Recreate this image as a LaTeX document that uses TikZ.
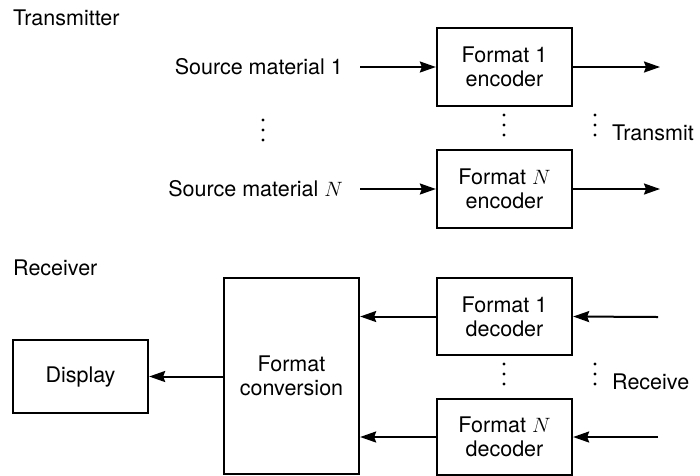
\documentclass[tikz,border=0pt]{standalone}
\usepackage{fontspec}
\setmainfont{TeX Gyre Heros}
\usetikzlibrary{arrows.meta}
\begin{document}
\begin{tikzpicture}[x=1pt,y=-1pt,
  font=\fontsize{21.5}{24}\selectfont,
  blk/.style={draw,line width=2.3pt,minimum width=135pt,align=center,inner sep=0pt},
  lbl/.style={inner sep=0pt},
  sig/.style={line width=2pt,-{Stealth[length=16pt,width=11pt,inset=2pt]}},
  dotcol/.style={fill,circle,inner sep=0pt,minimum size=3.4pt}]
\useasboundingbox (0,0) rectangle (700,475);

% ---- transmitter ----
\node[lbl,anchor=west] (tx) at (13,18) {Transmitter};
\node[lbl,anchor=east] (src1) at (343,67) {Source material 1};
\node[lbl,anchor=east] (srcN) at (343,189) {Source material $N$};
\node[blk,minimum height=78pt] (enc1) at (504.5,67) {Format 1\\encoder};
\node[blk,minimum height=78pt] (encN) at (504.5,189) {Format $N$\\encoder};
\coordinate (in1) at (360,67);
\coordinate (inN) at (360,189);
\coordinate (out1) at (660,67);
\coordinate (outN) at (660,189);
\draw[sig] (in1) -- (enc1.west);
\draw[sig] (inN) -- (encN.west);
\draw[sig] (enc1.east) -- (out1);
\draw[sig] (encN.east) -- (outN);
\node[lbl,anchor=west] (tmt) at (612,133) {Transmit};

% vertical ellipses between the encoder rows
\foreach \x/\y in {263/120,504/115,595/115}{
  \node[dotcol] at (\x,\y) {};
  \node[dotcol] at (\x,\y+10) {};
  \node[dotcol] at (\x,\y+20) {};
}

% ---- receiver ----
\node[lbl,anchor=west] (rx) at (13,268) {Receiver};
\node[blk,minimum height=196pt] (conv) at (291.5,376) {Format\\conversion};
\node[blk,minimum height=73pt] (disp) at (80.5,376.5) {Display};
\node[blk,minimum height=77pt] (dec1) at (504.5,316.5) {Format 1\\decoder};
\node[blk,minimum height=76pt] (decN) at (504.5,437) {Format $N$\\decoder};
\coordinate (rin1) at (658,317);
\coordinate (rinN) at (658,437);
\draw[sig] (rin1) -- (dec1.east);
\draw[sig] (rinN) -- (decN.east);
\draw[sig] (dec1.west) -- (dec1.west -| conv.east);
\draw[sig] (decN.west) -- (decN.west -| conv.east);
\draw[sig] (conv.west |- disp.east) -- (disp.east);
\node[lbl,anchor=west] (rcv) at (612,382) {Receive};

% vertical ellipses between the decoder rows
\foreach \x/\y in {504/364,595/364}{
  \node[dotcol] at (\x,\y) {};
  \node[dotcol] at (\x,\y+10) {};
  \node[dotcol] at (\x,\y+20) {};
}
\end{tikzpicture}
\end{document}
